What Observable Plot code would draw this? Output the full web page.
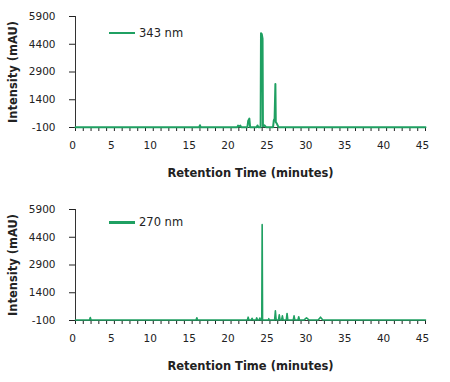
<!DOCTYPE html>
<html>
<head>
<meta charset="utf-8">
<script src="https://cdn.jsdelivr.net/npm/d3@7"></script>
<script src="https://cdn.jsdelivr.net/npm/@observablehq/plot@0.6"></script>
<style>
  html, body { margin: 0; padding: 0; background: #fff; }
  body { width: 450px; font-family: "DejaVu Sans", Verdana, sans-serif; }
  .panel { position: relative; width: 450px; }
  .legend { position: absolute; display: flex; align-items: center; font-size: 11.5px; color: #222; }
  .legend .swatch { width: 26px; margin-right: 4px; }
</style>
</head>
<body>
<div id="chart"></div>
<script>
// ---- data ----
const xTicks = [0, 5, 10, 15, 20, 25, 30, 35, 40, 45];
const yTicks = [-100, 1400, 2900, 4400, 5900];
const xLabel = "Retention Time (minutes)";
const yLabel = "Intensity (mAU)";
const seriesNames = ["343 nm", "270 nm"];

const time343 = [0, 15.9, 16.0, 16.1, 20.8, 20.9, 21.0, 21.2, 21.3, 22.1, 22.2, 22.35, 22.45, 23.3, 23.4, 23.5,
  23.8, 23.85, 23.95, 24.05, 24.1, 24.3, 24.5, 25.4, 25.5, 25.6, 25.7, 25.75, 25.9, 26.1, 45];
const mau343 = [-80, -80, 20, -80, -80, 0, -50, 0, -80, -80, 250, 380, -80, -80, 10, -80,
  -80, 5000, 4950, 4700, -40, 20, -80, -80, 300, 380, 2250, 200, 100, -80, -80];

const time270 = [0, 1.8, 1.9, 2.0, 15.5, 15.6, 15.7, 22.1, 22.2, 22.3, 22.6, 22.7, 22.8, 23.2, 23.3, 23.4, 23.6, 23.7, 23.8,
  23.95, 24.0, 24.05, 24.8, 24.85, 24.9, 25.6, 25.7, 25.8, 26.1, 26.2, 26.3, 26.5, 26.6, 26.7, 27.1, 27.2, 27.3,
  28.0, 28.1, 28.2, 28.6, 28.7, 28.8, 29.4, 29.7, 30.0, 31.2, 31.5, 31.8, 45];
const mau270 = [-70, -70, 60, -70, -70, 50, -70, -70, 80, -70, -70, 20, -70, -70, 40, -70, -70, 30, -70,
  -70, 5080, -70, -70, 0, -70, -70, 420, -70, -70, 210, -70, -70, 150, -70, -70, 280, -70,
  -70, 150, -70, -70, 100, -70, -70, 50, -70, -70, 80, -70, -70];

const green = "#1fa062";

function makePanel(times, values, name, opts) {
  const data = times.map((t, i) => ({t, v: values[i]}));
  const plot = Plot.plot({
    width: 450,
    height: opts.height,
    marginTop: opts.marginTop,
    marginBottom: opts.marginBottom,
    marginLeft: 75,
    marginRight: 25,
    style: {fontFamily: "'DejaVu Sans', Verdana, sans-serif", fontSize: "10.5px", color: "#222", background: "#fff", overflow: "visible"},
    x: {domain: [0, 45]},
    y: {domain: [-100, 5900]},
    marks: [
      Plot.axisY({ticks: yTicks, tickSize: 6, tickPadding: 14, tickFormat: d => String(d),
        label: yLabel, labelAnchor: "center", labelOffset: 67, labelArrow: "none"}),
      Plot.axisX({ticks: d3.range(0, 46), tickSize: 4, tickFormat: () => "", label: null}),
      Plot.axisX({ticks: xTicks, tickSize: 0, tickPadding: 14, dx: -3, tickFormat: d => String(d),
        label: xLabel, labelAnchor: "center", labelOffset: 49, labelArrow: "none"}),
      Plot.ruleX([0], {stroke: "#333"}),
      Plot.ruleY([-100], {stroke: "#333"}),
      Plot.line(data, {x: "t", y: "v", stroke: green, strokeWidth: opts.sw})
    ]
  });
  plot.querySelectorAll("[aria-label='y-axis label'] text, [aria-label='x-axis label'] text").forEach(t => {
    t.setAttribute("font-weight", "bold");
    t.setAttribute("font-size", "11.5px");
  });
  const wrap = document.createElement("div");
  wrap.className = "panel";
  wrap.appendChild(plot);
  const leg = document.createElement("div");
  leg.className = "legend";
  leg.style.left = "109px";
  leg.style.top = (opts.legendY - 8) + "px";
  leg.innerHTML = `<div class="swatch" style="height:${opts.lw}px;background:${green}"></div><span>${name}</span>`;
  wrap.appendChild(leg);
  return wrap;
}

const root = document.getElementById("chart");
root.appendChild(makePanel(time343, mau343, seriesNames[0], {height: 190, marginTop: 16, marginBottom: 63, sw: 2, lw: 1.5, legendY: 34}));
root.appendChild(makePanel(time270, mau270, seriesNames[1], {height: 192, marginTop: 19, marginBottom: 62, sw: 1.6, lw: 3, legendY: 33}));
</script>
</body>
</html>
